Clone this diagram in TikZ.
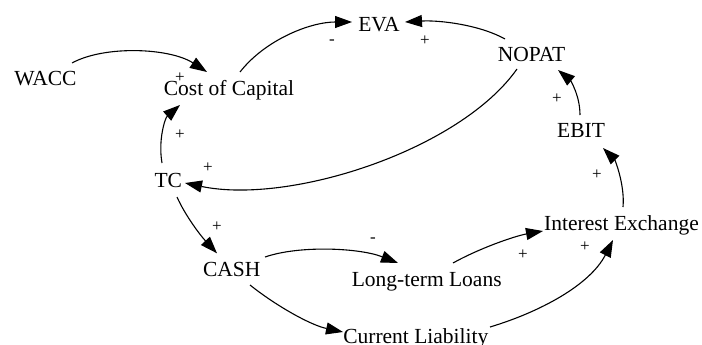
\documentclass[tikz,border=0pt]{standalone}
\usepackage{fontspec}
\setmainfont{Liberation Serif}
\usetikzlibrary{arrows.meta}
\begin{document}
\begin{tikzpicture}[x=1pt,y=-1pt,
  var/.style={anchor=base,inner sep=0pt,font=\fontsize{21.5}{24}\selectfont},
  sgn/.style={inner sep=0pt,font=\fontsize{17}{19}\selectfont},
  link/.style={line width=1.1pt,-{Triangle[length=17pt,width=12pt]}}]
\useasboundingbox (0,0) rectangle (702,345);
% variables
\node[var] (wacc) at (45.5,85.5) {WACC};
\node[var] (coc)  at (229,95.5) {Cost of Capital};
\node[var] (eva)  at (379,31.5) {EVA};
\node[var] (nopat) at (531.5,61.5) {NOPAT};
\node[var] (ebit) at (581,137.5) {EBIT};
\node[var] (ie)   at (621.5,230) {Interest Exchange};
\node[var] (tc)   at (168.3,187) {TC};
\node[var] (cash) at (231.7,276) {CASH};
\node[var] (ltl)  at (426.7,286) {Long-term Loans};
\node[var] (cl)   at (415.8,343) {Current Liability};
% connectors
\draw[link] ([shift={(26.5,-22.5)}]wacc.base) .. controls ([shift={(59.5,-40.5)}]wacc.base) and ([shift={(124.5,-37.5)}]wacc.base) .. ([shift={(-22,-23.5)}]coc.base);
\draw[link] ([shift={(11,-23.5)}]coc.base) .. controls ([shift={(36,-55.5)}]coc.base) and ([shift={(81,-73.5)}]coc.base) .. ([shift={(-27,-9.5)}]eva.base);
\draw[link] ([shift={(-26.5,-22.5)}]nopat.base) .. controls ([shift={(-51.5,-36.5)}]nopat.base) and ([shift={(-91.5,-41.5)}]nopat.base) .. ([shift={(26,-9.5)}]eva.base);
\draw[link] ([shift={(-14.5,7.5)}]nopat.base) .. controls ([shift={(-71.5,88.5)}]nopat.base) and ([shift={(-241.5,143.5)}]nopat.base) .. ([shift={(16.7,-4)}]tc.base);
\draw[link] ([shift={(-6.3,-24)}]tc.base) .. controls ([shift={(-10.3,-47)}]tc.base) and ([shift={(-3.3,-69)}]tc.base) .. ([shift={(-49,9.5)}]coc.base);
\draw[link] ([shift={(8.7,10)}]tc.base) .. controls ([shift={(16.7,28)}]tc.base) and ([shift={(31.7,48)}]tc.base) .. ([shift={(-14.7,-22.7)}]cash.base);
\draw[link] ([shift={(33.3,-19)}]cash.base) .. controls ([shift={(68.3,-31)}]cash.base) and ([shift={(128.3,-28)}]cash.base) .. ([shift={(-28.7,-23)}]ltl.base);
\draw[link] ([shift={(18.3,9)}]cash.base) .. controls ([shift={(43.3,29)}]cash.base) and ([shift={(78.3,49)}]cash.base) .. ([shift={(-72.8,-11)}]cl.base);
\draw[link] ([shift={(26.3,-23)}]ltl.base) .. controls ([shift={(53.3,-38)}]ltl.base) and ([shift={(88.3,-50)}]ltl.base) .. ([shift={(-78.5,1)}]ie.base);
\draw[link] ([shift={(74.2,-16)}]cl.base) .. controls ([shift={(124.2,-31)}]cl.base) and ([shift={(174.2,-58)}]cl.base) .. ([shift={(-8.5,10)}]ie.base);
\draw[link] ([shift={(1.5,-23)}]ie.base) .. controls ([shift={(3.5,-45)}]ie.base) and ([shift={(-6.5,-70)}]ie.base) .. ([shift={(22,10.5)}]ebit.base);
\draw[link] ([shift={(-1,-22.5)}]ebit.base) .. controls ([shift={(-1,-42.5)}]ebit.base) and ([shift={(-11,-57.5)}]ebit.base) .. ([shift={(26.5,8.5)}]nopat.base);
% polarity signs
\node[sgn] (s1) at (180,78) {+};
\node[sgn] (s2) at (332,42) {-};
\node[sgn] (s3) at (425,41) {+};
\node[sgn] (s4) at (208,168) {+};
\node[sgn] (s5) at (180,135) {+};
\node[sgn] (s6) at (217,227) {+};
\node[sgn] (s7) at (373,240) {-};
\node[sgn] (s8) at (523,255) {+};
\node[sgn] (s9) at (585,247) {+};
\node[sgn] (s10) at (597,175) {+};
\node[sgn] (s11) at (557,99) {+};
\end{tikzpicture}
\end{document}
